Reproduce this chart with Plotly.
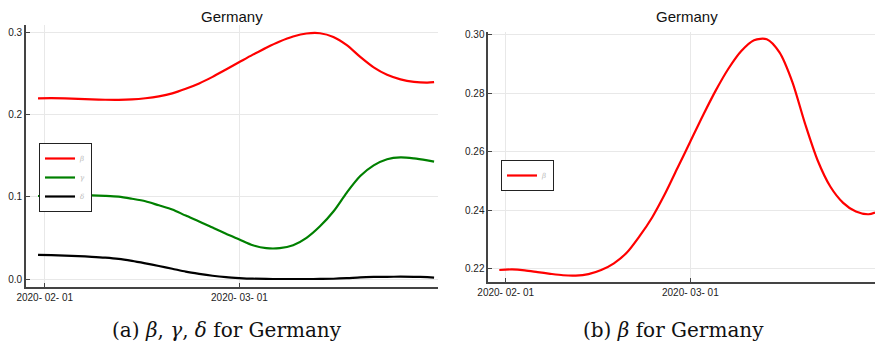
import plotly.graph_objects as go

dates = ["2020-01-31", "2020-02-02", "2020-02-04", "2020-02-06", "2020-02-08", "2020-02-10",
         "2020-02-12", "2020-02-14", "2020-02-16", "2020-02-18", "2020-02-20", "2020-02-22",
         "2020-02-24", "2020-02-26", "2020-02-28", "2020-03-01", "2020-03-03", "2020-03-05",
         "2020-03-07", "2020-03-09", "2020-03-11", "2020-03-13", "2020-03-15", "2020-03-17",
         "2020-03-19", "2020-03-21", "2020-03-23", "2020-03-25", "2020-03-27", "2020-03-29",
         "2020-03-30"]

beta = [0.2195, 0.2197, 0.2194, 0.2188, 0.2182, 0.2177, 0.2176, 0.2181, 0.2195, 0.2218,
        0.2254, 0.2310, 0.2375, 0.2455, 0.2545, 0.2635, 0.2725, 0.2810, 0.2885, 0.2945,
        0.2982, 0.2985, 0.2940, 0.2840, 0.2697, 0.2570, 0.2480, 0.2425, 0.2395, 0.2386,
        0.2392]

gamma = [0.1008, 0.1008, 0.1008, 0.1012, 0.1015, 0.1010, 0.1000, 0.0975, 0.0945, 0.0895,
         0.0845, 0.0770, 0.0700, 0.0625, 0.0550, 0.0480, 0.0410, 0.0375, 0.0375, 0.0410,
         0.0500, 0.0640, 0.0820, 0.1050, 0.1250, 0.1380, 0.1455, 0.1478, 0.1465, 0.1440,
         0.1425]

delta = [0.0294, 0.0290, 0.0285, 0.0278, 0.0270, 0.0260, 0.0245, 0.0220, 0.0190, 0.0158,
         0.0125, 0.0090, 0.0063, 0.0040, 0.0023, 0.0012, 0.0004, 0.0001, 0.0000, 0.0000,
         0.0000, 0.0001, 0.0003, 0.0010, 0.0020, 0.0025, 0.0027, 0.0028, 0.0027, 0.0022,
         0.0018]

x_tickvals = ["2020-02-01", "2020-03-01"]
x_ticktext = ["2020- 02- 01", "2020- 03- 01"]
y1_ticks = [0.0, 0.1, 0.2, 0.3]
y1_text = ["0.0", "0.1", "0.2", "0.3"]
y2_ticks = [0.22, 0.24, 0.26, 0.28, 0.30]
y2_text = ["0.22", "0.24", "0.26", "0.28", "0.30"]

W, H = 875, 345
fig = go.Figure()

line_kw = dict(shape="spline", smoothing=0.8, width=2.2)
fig.add_trace(go.Scatter(x=dates, y=beta, mode="lines", name="<i>β</i>",
                         line=dict(color="#ff0000", **line_kw), xaxis="x", yaxis="y", legend="legend"))
fig.add_trace(go.Scatter(x=dates, y=gamma, mode="lines", name="<i>γ</i>",
                         line=dict(color="#008000", **line_kw), xaxis="x", yaxis="y", legend="legend"))
fig.add_trace(go.Scatter(x=dates, y=delta, mode="lines", name="<i>δ</i>",
                         line=dict(color="#000000", **line_kw), xaxis="x", yaxis="y", legend="legend"))
fig.add_trace(go.Scatter(x=dates, y=beta, mode="lines", name="<i>β</i>",
                         line=dict(color="#ff0000", **line_kw), xaxis="x2", yaxis="y2", legend="legend2"))

def px(v):
    return v / W

def py(v):
    return 1 - v / H

tickfont = dict(family="Liberation Sans, Arial, sans-serif", size=10, color="#222222")
ax_common = dict(showline=True, linecolor="#444444", linewidth=1.6, ticks="inside", ticklen=4,
                 tickcolor="#444444", tickwidth=1, showgrid=True, gridcolor="#e8e8e8", gridwidth=1,
                 zeroline=False, tickfont=tickfont, mirror=False, automargin=False)

fig.update_layout(
    width=W, height=H, margin=dict(l=0, r=0, t=0, b=0, pad=0, autoexpand=False),
    paper_bgcolor="white", plot_bgcolor="white",
    xaxis=dict(domain=[px(26), px(438)], anchor="y", type="date",
               range=["2020-01-29 05:00", "2020-03-30 14:00"],
               tickvals=x_tickvals, ticktext=x_ticktext, **ax_common),
    yaxis=dict(domain=[py(287), py(25)], anchor="x", range=[-0.0097, 0.3085],
               tickvals=y1_ticks, ticktext=y1_text, **ax_common),
    xaxis2=dict(domain=[px(488.3), 1.0], anchor="y2", type="date",
                range=["2020-01-29 06:30", "2020-03-30 00:00"],
                tickvals=x_tickvals, ticktext=x_ticktext, **ax_common),
    yaxis2=dict(domain=[py(281.7), py(31.7)], anchor="x2", range=[0.2155, 0.3011],
                tickvals=y2_ticks, ticktext=y2_text, **ax_common),
    legend=dict(x=px(39), y=py(143), xanchor="left", yanchor="top",
                bordercolor="#222222", borderwidth=1, bgcolor="white",
                font=dict(family="DejaVu Serif, serif", size=7, color="#bbbbbb"),
                tracegroupgap=0, itemwidth=30),
    legend2=dict(x=px(501), y=py(160), xanchor="left", yanchor="top",
                 bordercolor="#222222", borderwidth=1, bgcolor="white",
                 font=dict(family="DejaVu Serif, serif", size=7, color="#bbbbbb"),
                 itemwidth=30),
    showlegend=True,
)

title_font = dict(family="Liberation Sans, Arial, sans-serif", size=15, color="#111111")
cap_font = dict(family="DejaVu Serif, serif", size=20, color="#111111")
fig.add_annotation(text="Germany", x=px(232), y=py(17), xref="paper", yref="paper",
                   showarrow=False, font=title_font, xanchor="center", yanchor="middle")
fig.add_annotation(text="Germany", x=px(687), y=py(17), xref="paper", yref="paper",
                   showarrow=False, font=title_font, xanchor="center", yanchor="middle")
fig.add_annotation(text="(a) <i>β</i>, <i>γ</i>, <i>δ</i> for Germany", x=px(226.5), y=py(330),
                   xref="paper", yref="paper", showarrow=False, font=cap_font,
                   xanchor="center", yanchor="middle")
fig.add_annotation(text="(b) <i>β</i> for Germany", x=px(673), y=py(330),
                   xref="paper", yref="paper", showarrow=False, font=cap_font,
                   xanchor="center", yanchor="middle")

fig.write_html("out.html", config={"displayModeBar": False},
               post_script="document.body.style.margin='0px';document.body.style.overflow='hidden';")
